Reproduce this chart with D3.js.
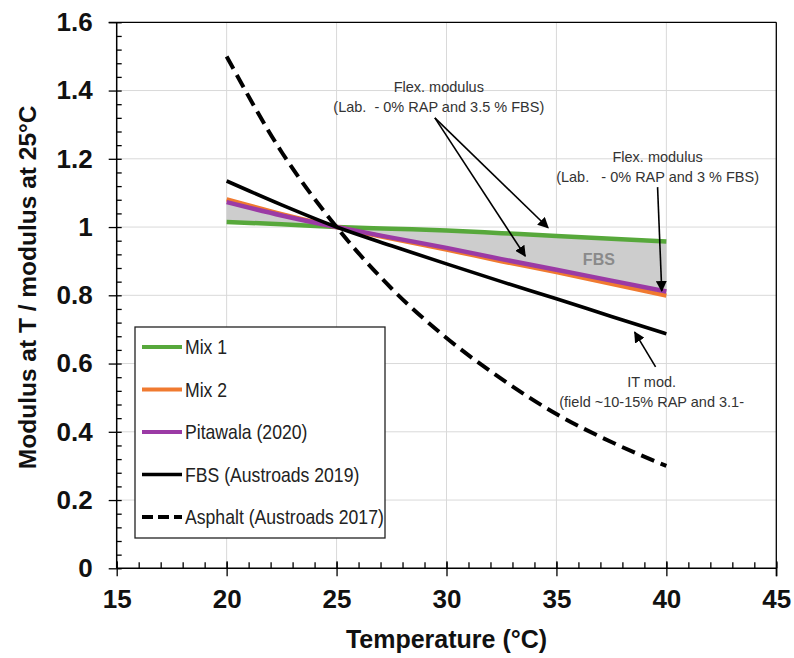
<!DOCTYPE html>
<html><head><meta charset="utf-8">
<script src="https://cdn.jsdelivr.net/npm/d3@7"></script>
<style>body{margin:0;background:#fff}svg{display:block;font-family:"Liberation Sans",Arial,sans-serif}</style>
</head><body><svg id="c" width="794" height="658"></svg>
<script>
const temps    = [20, 22.5, 25, 27.5, 30, 32.5, 35, 37.5, 40];
const mix1     = [1.015, 1.008, 1.0, 0.995, 0.99, 0.982, 0.974, 0.966, 0.958];
const mix2     = [1.081, 1.038, 1.0, 0.966, 0.934, 0.900, 0.868, 0.834, 0.799];
const pitawala = [1.073, 1.034, 1.0, 0.969, 0.939, 0.906, 0.875, 0.843, 0.811];
const fbsAus   = [1.135, 1.065, 1.0, 0.945, 0.892, 0.840, 0.790, 0.738, 0.687];
const asphalt  = [1.50, 1.22, 1.0, 0.82, 0.675, 0.555, 0.452, 0.37, 0.30];
const xTicks = [15, 20, 25, 30, 35, 40, 45];
const yTicks = [0, 0.2, 0.4, 0.6, 0.8, 1, 1.2, 1.4, 1.6];
const seriesNames = ["Mix 1", "Mix 2", "Pitawala (2020)", "FBS (Austroads 2019)", "Asphalt (Austroads 2017)"];
const seriesColors = ["#57a83b", "#f07a30", "#9b3aa5", "#000000", "#000000"];

const svg = d3.select("#c");
const L = 116.7, R = 776.3, T = 22.3, B = 568.3;
const x = d3.scaleLinear().domain([15, 45]).range([L, R]);
const y = d3.scaleLinear().domain([0, 1.6]).range([B, T]);

// grid
svg.append("g").selectAll("line").data(xTicks.slice(1, -1)).join("line")
  .attr("x1", d => x(d)).attr("x2", d => x(d)).attr("y1", T).attr("y2", B)
  .attr("stroke", "#d9d9d9").attr("stroke-width", 1);
svg.append("g").selectAll("line").data(yTicks.slice(1, -1)).join("line")
  .attr("y1", d => y(d)).attr("y2", d => y(d)).attr("x1", L).attr("x2", R)
  .attr("stroke", "#d9d9d9").attr("stroke-width", 1);

// border top/right
svg.append("line").attr("x1", L - 8).attr("x2", R).attr("y1", T).attr("y2", T).attr("stroke", "#000").attr("stroke-width", 1.3);
svg.append("line").attr("x1", R).attr("x2", R).attr("y1", T).attr("y2", B + 8).attr("stroke", "#000").attr("stroke-width", 1.3);

// axes
const yMinor = d3.range(0, 1.6001, 0.04);
svg.append("g").attr("transform", `translate(${L},0)`)
  .call(d3.axisLeft(y).tickValues(yMinor).tickSize(-5).tickFormat(""))
  .call(g => { g.select(".domain").remove(); g.selectAll("line").attr("stroke-width", 1.3); });
svg.append("g").attr("transform", `translate(${L},0)`)
  .call(d3.axisLeft(y).tickValues(yTicks).tickSize(8).tickPadding(16).tickFormat(d3.format("~g")))
  .call(g => {
    g.select(".domain").attr("stroke-width", 1.5).attr("d", `M0,${T}V${B}`);
    g.selectAll("line").attr("stroke-width", 1.3);
    g.selectAll("text").attr("font-size", 26).attr("font-weight", "bold").attr("fill", "#111")
      .attr("font-family", "'Liberation Sans',Arial,sans-serif");
  });
const xMinor = d3.range(15, 45.01, 1);
svg.append("g").attr("transform", `translate(0,${B})`)
  .call(d3.axisBottom(x).tickValues(xMinor).tickSize(-6).tickFormat(""))
  .call(g => { g.select(".domain").remove(); g.selectAll("line").attr("stroke-width", 1.3); });
svg.append("g").attr("transform", `translate(0,${B})`)
  .call(d3.axisBottom(x).tickValues(xTicks).tickSize(8).tickPadding(13).tickFormat(d3.format("d")))
  .call(g => {
    g.select(".domain").attr("stroke-width", 1.5).attr("d", `M${L},0H${R}`);
    g.selectAll(".tick line").attr("y1", -7).attr("y2", 8).attr("stroke-width", 1.3);
    g.selectAll("text").attr("font-size", 26).attr("font-weight", "bold").attr("fill", "#111")
      .attr("font-family", "'Liberation Sans',Arial,sans-serif");
  });

// axis titles
svg.append("text").attr("x", (L + R) / 2).attr("y", 648).attr("text-anchor", "middle")
  .attr("font-size", 25).attr("font-weight", "bold").attr("fill", "#111").text("Temperature (°C)");
svg.append("text").attr("transform", `translate(36,${(T + B) / 2 - 8}) rotate(-90)`).attr("text-anchor", "middle")
  .attr("font-size", 24.5).attr("font-weight", "bold").attr("fill", "#111").text("Modulus at T / modulus at 25°C");

// data
const rows = temps.map((t, i) => ({t, m1: mix1[i], m2: mix2[i], p: pitawala[i], f: fbsAus[i], a: asphalt[i]}));
const curve = d3.curveMonotoneX;
svg.append("path").datum(rows)
  .attr("d", d3.area().x(d => x(d.t)).y0(d => y(d.p)).y1(d => y(d.m1)).curve(curve))
  .attr("fill", "#cdcdcd");
svg.append("text").attr("x", x(36.93)).attr("y", y(0.889)).attr("text-anchor", "middle")
  .attr("font-size", 16).attr("font-weight", "bold").attr("fill", "#8a8a8a").text("FBS");

const line = key => d3.line().x(d => x(d.t)).y(d => y(d[key])).curve(curve);
const drawOrder = [["m1", 0, 4.5, null], ["m2", 1, 4.5, null], ["p", 2, 4.5, null], ["f", 3, 3.6, null], ["a", 4, 4, "14,7"]];
drawOrder.forEach(([k, ci, w, dash]) => {
  svg.append("path").datum(rows).attr("d", line(k)).attr("fill", "none")
    .attr("stroke", seriesColors[ci]).attr("stroke-width", w)
    .attr("stroke-dasharray", dash);
});

// annotations
const defs = svg.append("defs");
defs.append("marker").attr("id", "ah").attr("viewBox", "0 0 10 10").attr("refX", 9).attr("refY", 5)
  .attr("markerWidth", 11).attr("markerHeight", 11).attr("markerUnits", "userSpaceOnUse").attr("orient", "auto")
  .append("path").attr("d", "M0,0L10,5L0,10z").attr("fill", "#000");

const arrows = [
  [29.47, 1.32, 34.62, 0.998],
  [29.47, 1.32, 33.58, 0.915],
  [39.6, 1.117, 39.79, 0.813],
  [39.51, 0.59, 38.56, 0.692]
];
svg.append("g").selectAll("line").data(arrows).join("line")
  .attr("x1", d => x(d[0])).attr("y1", d => y(d[1])).attr("x2", d => x(d[2])).attr("y2", d => y(d[3]))
  .attr("stroke", "#000").attr("stroke-width", 1.6).attr("marker-end", "url(#ah)");

const notes = [
  [29.65, 1.396, "Flex. modulus"],
  [29.65, 1.337, "(Lab.  - 0% RAP and 3.5 % FBS)"],
  [39.6, 1.19, "Flex. modulus"],
  [39.6, 1.132, "(Lab.   - 0% RAP and 3 % FBS)"],
  [39.33, 0.531, "IT mod."],
  [39.33, 0.473, "(field ~10-15% RAP and 3.1-"]
];
svg.append("g").selectAll("text").data(notes).join("text")
  .attr("x", d => x(d[0])).attr("y", d => y(d[1])).attr("text-anchor", "middle")
  .attr("font-size", 14.5).attr("fill", "#333").style("white-space", "pre").attr("xml:space", "preserve")
  .text(d => d[2]);

// legend
const lg = svg.append("g");
lg.append("rect").attr("x", 135).attr("y", 327).attr("width", 250).attr("height", 211)
  .attr("fill", "#fff").attr("stroke", "#222").attr("stroke-width", 1.3);
seriesNames.forEach((n, i) => {
  const yy = 347 + i * 42.5;
  lg.append("line").attr("x1", 142).attr("x2", 182).attr("y1", yy).attr("y2", yy)
    .attr("stroke", seriesColors[i]).attr("stroke-width", i === 3 ? 3.6 : 4)
    .attr("stroke-dasharray", i === 4 ? "11,5" : null);
  lg.append("text").attr("transform", `translate(185,${yy + 7}) scale(0.86,1)`)
    .attr("font-size", 20.5).attr("fill", "#222").text(n);
});
</script></body></html>
